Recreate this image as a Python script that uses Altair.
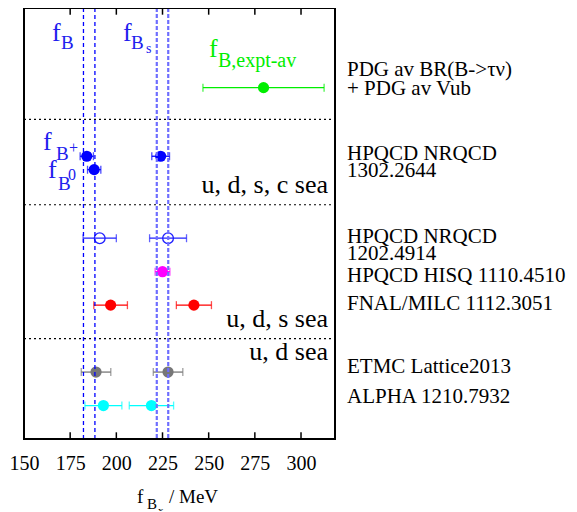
import altair as alt
import pandas as pd

FONT = "Liberation Serif"
X_MIN, X_MAX = 150, 318.4
Y_MIN, Y_MAX = 0, 12.88
W, H = 311, 431

# ---- measurements (MeV) ----
meas_group = ["PDG", "HPQCD13", "HPQCD13", "HPQCD13", "HPQCD12", "HPQCD12",
              "HISQ", "FNAL", "FNAL", "ETMC", "ETMC", "ALPHA", "ALPHA"]
meas_row = [10.5, 8.45, 8.05, 8.45, 6.0, 6.0, 5.0, 4.0, 4.0, 2.0, 2.0, 1.0, 1.0]
meas_val = [279.7, 184, 188, 224, 191, 228, 225, 196.9, 242.0, 189, 228, 193, 219]
meas_err = [32.8, 3.6, 3.6, 4.8, 9, 10, 4, 9.1, 9.5, 8, 8, 10, 12]

group_names = ["PDG", "HPQCD13", "HPQCD12", "HISQ", "FNAL", "ETMC", "ALPHA"]
group_colors = ["#00ee00", "#0000ff", "#2020ff", "#ff00ff", "#ff0000", "#777777", "#00ffff"]

# HPQCD averages (vertical bands)
band_fB = [182.2, 188.4]
band_fBs = [221.9, 228.1]

# section separators (row units)
sep_rows = [9.55, 7.0, 3.0]

tick_vals = [150, 175, 200, 225, 250, 275, 300]

# ---- text ----
right_text = ["PDG av BR(B->τν)", "+ PDG av Vub", "HPQCD NRQCD", "1302.2644",
              "HPQCD NRQCD", "1202.4914", "HPQCD HISQ 1110.4510",
              "FNAL/MILC 1112.3051", "ETMC Lattice2013", "ALPHA 1210.7932"]
right_row = [10.85, 10.28, 8.34, 7.83, 5.86, 5.35, 4.70, 3.86, 1.97, 1.08]
right_x = 324.9

sea_text = ["u, d, s, c sea", "u, d, s sea", "u, d sea"]
sea_row = [7.36, 3.36, 2.36]
sea_x = 314.6

frag_text = ["f", "B", "f", "B", "s", "f", "B,expt-av",
             "f", "B", "+", "f", "B", "0",
             "f", "B", "x", "/ MeV"]
frag_x = [165.2, 170.0, 203.6, 207.9, 216.1, 250.2, 255.0,
          160.3, 167.3, 174.4, 163.0, 168.4, 173.8,
          211.2, 216.6, 222.5, 228.5]
frag_y = [11.89, 11.66, 11.89, 11.66, 11.54, 11.42, 11.12,
          8.64, 8.34, 8.55, 7.80, 7.44, 7.74,
          -1.91, -2.09, -2.24, -1.91]
frag_size = [26, 19, 26, 19, 14, 26, 20,
             26, 19, 16, 26, 19, 16,
             19, 15, 11, 19]
frag_color = ["#2020ee"] * 5 + ["#00ee00"] * 2 + ["#2020ee"] * 6 + ["black"] * 4

# ---- data frames ----
meas = pd.DataFrame({"group": meas_group, "row": meas_row, "val": meas_val, "err": meas_err})
meas["lo"] = meas["val"] - meas["err"]
meas["hi"] = meas["val"] + meas["err"]
caps = pd.concat([
    meas[["group", "row"]].assign(x=meas["lo"]),
    meas[["group", "row"]].assign(x=meas["hi"]),
])
seps = pd.DataFrame({"row": sep_rows, "x0": X_MIN, "x1": X_MAX})
ticks = pd.DataFrame({"x": tick_vals[1:], "b0": Y_MIN, "b1": Y_MIN + 0.2,
                      "t0": Y_MAX, "t1": Y_MAX - 0.2})
frame = pd.DataFrame({"x0": [X_MIN], "x1": [X_MAX], "y0": [Y_MIN], "y1": [Y_MAX]})
right_df = pd.DataFrame({"text": right_text, "row": right_row, "x": right_x})
sea_df = pd.DataFrame({"text": sea_text, "row": sea_row, "x": sea_x})
frag_df = pd.DataFrame({"text": frag_text, "x": frag_x, "row": frag_y,
                        "size": frag_size, "color": frag_color})

xs = alt.Scale(domain=[X_MIN, X_MAX], nice=False, zero=False)
ys = alt.Scale(domain=[Y_MIN, Y_MAX], nice=False, zero=False)
cs = alt.Scale(domain=group_names, range=group_colors)

x_axis = alt.Axis(values=tick_vals, labelFont=FONT, labelFontSize=20, labelColor="black",
                  ticks=False, domain=False, grid=False, title=None, labelPadding=14,
                  labelFlush=False)


def X(f):
    return alt.X(f, scale=xs, axis=x_axis)


def Y(f):
    return alt.Y(f, scale=ys, axis=None)


sep_layer = alt.Chart(seps).mark_rule(color="black", strokeDash=[2, 3], strokeWidth=1.2).encode(
    x=X("x0:Q"), x2="x1:Q", y=Y("row:Q"))

bars = alt.Chart(meas).mark_rule(strokeWidth=1.3).encode(
    x=X("lo:Q"), x2="hi:Q", y=Y("row:Q"),
    color=alt.Color("group:N", scale=cs, legend=None))

cap_layer = alt.Chart(caps).mark_tick(orient="vertical", size=8, thickness=1.3).encode(
    x=X("x:Q"), y=Y("row:Q"), color=alt.Color("group:N", scale=cs, legend=None))

filled = alt.Chart(meas).transform_filter(alt.datum.group != "HPQCD12").mark_point(
    filled=True, shape="circle", size=125, opacity=1).encode(
    x=X("val:Q"), y=Y("row:Q"), color=alt.Color("group:N", scale=cs, legend=None))

hollow = alt.Chart(meas).transform_filter(alt.datum.group == "HPQCD12").mark_point(
    filled=False, shape="circle", size=115, opacity=1, strokeWidth=1.3).encode(
    x=X("val:Q"), y=Y("row:Q"), color=alt.Color("group:N", scale=cs, legend=None))

vdark = alt.Chart(pd.DataFrame({"x": band_fB})).mark_rule(
    color="#0000ff", strokeWidth=1.3, strokeDash=[4, 3]).encode(x=X("x:Q"))
vlight = alt.Chart(pd.DataFrame({"x": band_fBs})).mark_rule(
    color="#6e6eff", strokeWidth=2.2, strokeDash=[4, 2]).encode(x=X("x:Q"))

tick_bot = alt.Chart(ticks).mark_rule(color="black", strokeWidth=1.5).encode(
    x=X("x:Q"), y=Y("b0:Q"), y2="b1:Q")
tick_top = alt.Chart(ticks).mark_rule(color="black", strokeWidth=1.5).encode(
    x=X("x:Q"), y=Y("t0:Q"), y2="t1:Q")

frame_layer = alt.Chart(frame).mark_rect(
    fillOpacity=0, stroke="black", strokeWidth=2).encode(
    x=X("x0:Q"), x2="x1:Q", y=Y("y0:Q"), y2="y1:Q")

right_layer = alt.Chart(right_df).mark_text(
    align="left", baseline="alphabetic", font=FONT, fontSize=21, color="black").encode(
    x=X("x:Q"), y=Y("row:Q"), text="text:N")

sea_layer = alt.Chart(sea_df).mark_text(
    align="right", baseline="alphabetic", font=FONT, fontSize=26, color="black").encode(
    x=X("x:Q"), y=Y("row:Q"), text="text:N")

frag_layer = alt.Chart(frag_df).mark_text(
    align="left", baseline="alphabetic", font=FONT).encode(
    x=X("x:Q"), y=Y("row:Q"), text="text:N",
    size=alt.Size("size:Q", scale=None, legend=None),
    color=alt.Color("color:N", scale=None, legend=None))

chart = alt.layer(
    sep_layer, bars, cap_layer, filled, hollow, vdark, vlight, tick_bot, tick_top,
    frame_layer, right_layer, sea_layer, frag_layer
).properties(
    width=W, height=H,
    autosize=alt.AutoSizeParams(type="none"),
    padding={"left": 16, "top": 0, "right": 234, "bottom": 72},
).configure(background="white").configure_view(stroke=None)

chart.save("out.html", embed_options={"renderer": "svg", "actions": False})
